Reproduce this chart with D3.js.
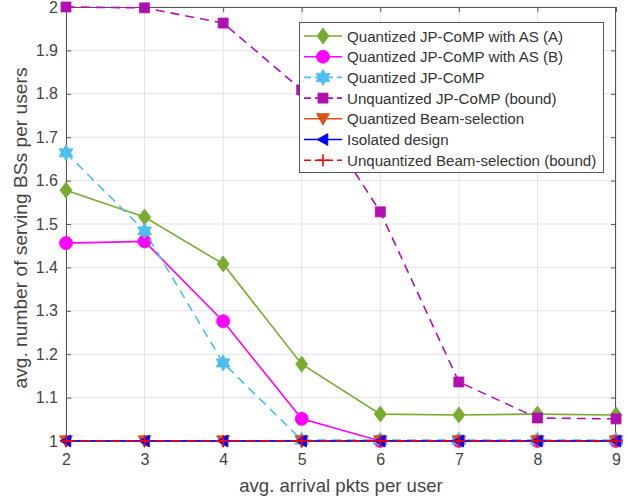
<!DOCTYPE html>
<html><head><meta charset="utf-8">
<script src="https://cdn.jsdelivr.net/npm/d3@7"></script>
<style>body{margin:0;background:#fff}svg{display:block}text{font-family:"Liberation Sans",Arial,sans-serif}</style>
</head><body><svg id="c" width="628" height="499"></svg>
<script>
const xVals = [2,3,4,5,6,7,8,9];
const seriesA = [1.578,1.516,1.408,1.177,1.062,1.060,1.062,1.060];
const seriesB = [1.456,1.460,1.276,1.051,1.0,1.0,1.0,1.0];
const seriesQ = [1.664,1.484,1.180,1.002,1.002,1.002,1.002,1.002];
const seriesU = [2.0,1.998,1.963,1.809,1.528,1.136,1.053,1.051];
const seriesQB = [1,1,1,1,1,1,1,1];
const seriesIso = [1,1,1,1,1,1,1,1];
const seriesUB = [1,1,1,1,1,1,1,1];
const yTicks = [1,1.1,1.2,1.3,1.4,1.5,1.6,1.7,1.8,1.9,2];
const names = ["Quantized JP-CoMP with AS (A)","Quantized JP-CoMP with AS (B)","Quantized JP-CoMP","Unquantized JP-CoMP (bound)","Quantized Beam-selection","Isolated design","Unquantized Beam-selection (bound)"];

const svg = d3.select("#c");
const L=66,R=616,T=7,B=441;
const x = d3.scaleLinear().domain([2,9]).range([L,R]);
const y = d3.scaleLinear().domain([1,2]).range([B,T]);

// grid
const g = svg.append("g");
g.selectAll(".gx").data(xVals).enter().append("line")
 .attr("x1",d=>x(d)).attr("x2",d=>x(d)).attr("y1",T).attr("y2",B).attr("stroke","#e3e3e3").attr("stroke-width",1);
g.selectAll(".gy").data(yTicks).enter().append("line")
 .attr("y1",d=>y(d)).attr("y2",d=>y(d)).attr("x1",L).attr("x2",R).attr("stroke","#e3e3e3").attr("stroke-width",1);

// axes
const ax = svg.append("g");
const xa = ax.append("g").attr("transform",`translate(0,${B})`).call(d3.axisBottom(x).tickValues(xVals).tickSize(-5).tickPadding(13).tickFormat(d3.format("d")));
const ya = ax.append("g").attr("transform",`translate(${L},0)`).call(d3.axisLeft(y).tickValues(yTicks).tickSize(-5).tickPadding(8).tickFormat(d=>d===1||d===2?d3.format("d")(d):d3.format(".1f")(d)));
const xt = ax.append("g").attr("transform",`translate(0,${T})`).call(d3.axisTop(x).tickValues(xVals).tickSize(-5).tickFormat(""));
const yr = ax.append("g").attr("transform",`translate(${R},0)`).call(d3.axisRight(y).tickValues(yTicks).tickSize(-5).tickFormat(""));
[xa,ya,xt,yr].forEach(a=>{a.select(".domain").remove();a.selectAll("line").attr("stroke","#555");
 a.selectAll("text").attr("fill","#444").style("font-size","16px");});
ax.append("rect").attr("x",L+0.5).attr("y",T+0.5).attr("width",R-L-1).attr("height",B-T-1).attr("fill","none").attr("stroke","#555").attr("stroke-width",1);

svg.append("text").attr("x",(L+R)/2).attr("y",492).attr("text-anchor","middle").attr("fill","#444").style("font-size","18.6px").text("avg. arrival pkts per user");
svg.append("text").attr("transform",`translate(27,${228}) rotate(-90)`).attr("text-anchor","middle").attr("fill","#444").style("font-size","19.2px").text("avg. number of serving BSs per users");

function hexagram(r){const pts=[];for(let i=0;i<12;i++){const a=-Math.PI/2+i*Math.PI/6;const rr=i%2?r*0.58:r;pts.push([rr*Math.cos(a),rr*Math.sin(a)]);}return "M"+pts.map(p=>p.join(",")).join("L")+"Z";}
const markers = {
 diamond: s=>`M0,${-s}L${s*0.75},0L0,${s}L${-s*0.75},0Z`,
 circle: s=>d3.symbol(d3.symbolCircle, Math.PI*s*s)(),
 hex: s=>hexagram(s),
 square: s=>`M${-s},${-s}H${s}V${s}H${-s}Z`,
 tridown: s=>`M${-s},${-s*0.8}L${s},${-s*0.8}L0,${s}Z`,
 trileft: s=>`M${-s},0L${s*0.8},${-s}L${s*0.8},${s}Z`,
 plus: s=>`M${-s},0H${s}M0,${-s}V${s}`
};
const cfg = [
 {data:seriesA,color:"#77AC30",dash:null,m:"diamond",s:8,fill:true},
 {data:seriesB,color:"#FF00FF",dash:null,m:"circle",s:6.5,fill:true},
 {data:seriesQ,color:"#4DBEEE",dash:"9,6",m:"hex",s:8,fill:true},
 {data:seriesU,color:"#B010B0",dash:"9,6",m:"square",s:5,fill:true},
 {data:seriesQB,color:"#D95319",dash:null,m:"tridown",s:6.5,fill:true},
 {data:seriesIso,color:"#0000FF",dash:null,m:"trileft",s:6,fill:true},
 {data:seriesUB,color:"#FF0000",dash:"9,6",m:"plus",s:6,fill:false}
];
const line = d3.line().x((d,i)=>x(xVals[i])).y(d=>y(d));
const plot = svg.append("g");
cfg.forEach(c=>{
 const gg = plot.append("g");
 gg.append("path").attr("d",line(c.data)).attr("fill","none").attr("stroke",c.color).attr("stroke-width",1.6).attr("stroke-dasharray",c.dash);
 gg.selectAll("path.m").data(c.data).enter().append("path").attr("class","m")
  .attr("transform",(d,i)=>`translate(${x(xVals[i])},${y(d)})`).attr("d",markers[c.m](c.s))
  .attr("fill",c.fill?c.color:"none").attr("stroke",c.color).attr("stroke-width",c.fill?0.8:1.6);
});

// legend
const lg = svg.append("g");
lg.append("rect").attr("x",299.5).attr("y",22.5).attr("width",304).attr("height",150).attr("fill","#fff").attr("stroke","#555").attr("stroke-width",1);
cfg.forEach((c,i)=>{
 const yy = 36 + i*20.7;
 lg.append("line").attr("x1",304).attr("x2",342).attr("y1",yy).attr("y2",yy).attr("stroke",c.color).attr("stroke-width",1.6).attr("stroke-dasharray",c.dash?"7,4":null);
 lg.append("path").attr("transform",`translate(323,${yy})`).attr("d",markers[c.m](c.s)).attr("fill",c.fill?c.color:"none").attr("stroke",c.color).attr("stroke-width",c.fill?0.8:1.6);
 lg.append("text").attr("x",347).attr("y",yy+5.5).attr("fill","#333").style("font-size","15.1px").text(names[i]);
});
</script></body></html>
